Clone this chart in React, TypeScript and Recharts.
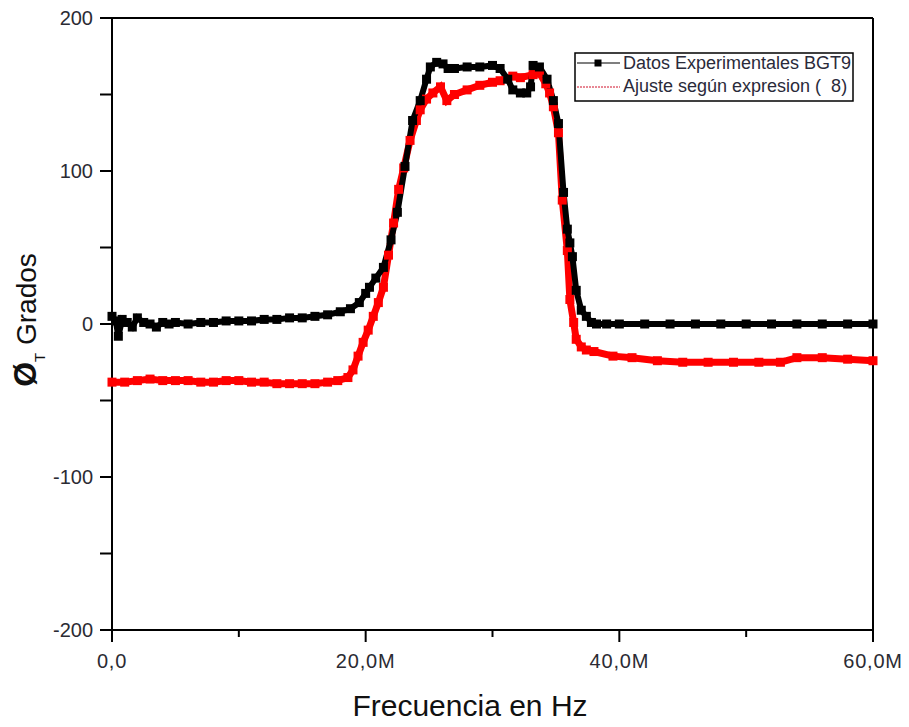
import React from 'react'
import { LineChart, Line, XAxis, YAxis, ReferenceLine } from 'recharts'

// frequency in MHz, phase in degrees
const expFreq = [0.0, 0.3, 0.5, 0.8, 1.2, 1.6, 2.0, 2.5, 3.0, 3.5, 4.0, 4.5, 5.0, 6.0, 7.0, 8.0, 9.0, 10.0, 11.0, 12.0, 13.0, 14.0, 15.0, 16.0, 17.0, 18.0, 18.8, 19.5, 20.0, 20.3, 20.8, 21.4, 22.0, 22.5, 23.1, 23.7, 24.3, 24.8, 25.1, 25.6, 26.1, 26.5, 27.0, 28.0, 29.0, 30.0, 30.6, 31.2, 31.6, 32.2, 32.7, 33.0, 33.2, 33.7, 34.3, 34.8, 35.2, 35.6, 35.9, 36.1, 36.3, 36.6, 37.0, 37.4, 37.8, 38.2, 39, 40, 42, 44, 46, 48, 50, 52, 54, 56, 58, 60]
const expPhase = [5, 2, -8, 3, 1, -2, 4, 1, 0, -2, 1, 0, 1, 0, 1, 1, 2, 2, 2, 3, 3, 4, 4, 5, 6, 8, 10, 14, 20, 24, 30, 37, 55, 73, 103, 133, 146, 160, 168, 171, 170, 167, 167, 168, 168, 169, 167, 160, 153, 151, 151, 155, 169, 168, 160, 146, 131, 86, 62, 53, 44, 22, 9, 5, 1, 0, 0, 0, 0, 0, 0, 0, 0, 0, 0, 0, 0, 0]

const fitFreq = [0.0, 1.0, 2.0, 3.0, 4.0, 5.0, 6.0, 7.0, 8.0, 9.0, 10.0, 11.0, 12.0, 13.0, 14.0, 15.0, 16.0, 17.0, 17.8, 18.6, 19.0, 19.4, 19.8, 20.2, 20.6, 21.0, 21.4, 21.8, 22.2, 22.6, 23.0, 23.5, 24.0, 24.3, 24.8, 25.3, 25.9, 26.4, 27.0, 28.0, 29.0, 30.0, 30.6, 31.6, 32.2, 33.2, 33.7, 34.2, 34.5, 34.8, 35.2, 35.5, 35.9, 36.1, 36.4, 36.6, 37.0, 37.4, 38.0, 39.5, 41, 43, 45, 47, 49, 51, 52.7, 54, 56, 58, 60]
const fitPhase = [-38, -38, -37, -36, -37, -37, -37, -38, -38, -37, -37, -38, -38, -39, -39, -39, -39, -38, -37, -35, -30, -21, -12, -4, 5, 14, 24, 45, 66, 88, 102, 120, 133, 140, 147, 151, 155, 146, 150, 153, 156, 158, 159, 162, 161, 163, 164, 157, 151, 142, 125, 81, 48, 16, 1, -10, -15, -17, -18, -21, -22, -24, -25, -25, -25, -25, -25, -22, -22, -23, -24]

const xTicks = [0, 10e6, 20e6, 30e6, 40e6, 50e6, 60e6]
const yTicks = [-200, -150, -100, -50, 0, 50, 100, 150, 200]

const expData = expFreq.map((f, i) => ({ x: f * 1e6, y: expPhase[i] }))
const fitData = fitFreq.map((f, i) => ({ x: f * 1e6, y: fitPhase[i] }))

const font = '"Liberation Sans", Arial, sans-serif'
const textColor = '#2b2b33'

const fmtX = (v: number) => {
  if (v === 0) return '0,0'
  return (v / 1e6).toFixed(1).replace('.', ',') + 'M'
}

const squareDot = (color: string, size: number) => (props: any) => {
  const { cx, cy, index } = props
  return <rect key={'d' + index} x={cx - size / 2} y={cy - size / 2} width={size} height={size} fill={color} />
}

// x tick: long tick + label every 20M, short tick between
const XTick = (props: any) => {
  const { x, y, payload } = props
  const axisY = y - 14 // tickSize 12 + tickMargin 2
  const major = payload.value % 20e6 === 0
  return (
    <g>
      <line x1={x} y1={axisY} x2={x} y2={axisY + (major ? 12 : 7)} stroke="#000" strokeWidth={2} />
      {major && (
        <text x={x} y={axisY + 38} textAnchor="middle" fontSize={20} letterSpacing={0.8} fill={textColor} fontFamily={font}>
          {fmtX(payload.value)}
        </text>
      )}
    </g>
  )
}

const YTick = (props: any) => {
  const { x, y, payload } = props
  const axisX = x + 19 // tickSize 12 + tickMargin 7
  const major = payload.value % 100 === 0
  return (
    <g>
      <line x1={axisX - 12} y1={y} x2={axisX} y2={y} stroke="#000" strokeWidth={2} />
      {major && (
        <text x={axisX - 19} y={y + 7} textAnchor="end" fontSize={20} fill={textColor} fontFamily={font}>
          {payload.value}
        </text>
      )}
    </g>
  )
}

// drawn outside the chart so it doesn't eat into the plot area
function LegendBox() {
  return (
    <svg width={280} height={50} style={{ position: 'absolute', left: 574, top: 52 }}>
      <rect x={1} y={1} width={278} height={48} fill="#fff" stroke="#000" strokeWidth={1.5} />
      <line x1={3} y1={11} x2={46} y2={11} stroke="#000" strokeWidth={1.2} />
      <rect x={20.5} y={7.5} width={7} height={7} fill="#000" />
      <text x={49} y={17} fontSize={18} fill="#2a2a3a" fontFamily={font}>Datos Experimentales BGT9</text>
      <line x1={3} y1={35} x2={46} y2={35} stroke="#d0102a" strokeWidth={1} strokeDasharray="2 1" />
      <text x={49} y={40} fontSize={18} fill="#2a2a3a" fontFamily={font}>{'Ajuste según expresion ( \u00a08)'}</text>
    </svg>
  )
}

function YTitle() {
  return (
    <text x={36} y={320} transform="rotate(-90, 36, 320)" textAnchor="middle" fontFamily={font} fill="#111" fontSize={28}>
      <tspan fontSize={32} fontWeight="bold">Ø</tspan>
      <tspan fontSize={15} dy={9}>T</tspan>
      <tspan dy={-9}> Grados</tspan>
    </text>
  )
}

function XTitle() {
  return (
    <text x={470} y={716} textAnchor="middle" fontFamily={font} fill="#111" fontSize={30}>
      Frecuencia en Hz
    </text>
  )
}

export default function App() {
  return (
    <div style={{ position: 'absolute', left: 0, top: 0, width: 909, height: 727, background: '#fff' }}>
      <LineChart width={909} height={727} margin={{ top: 18, right: 36, bottom: 37, left: 52 }}>
        <XAxis
          dataKey="x"
          type="number"
          domain={[0, 60e6]}
          ticks={xTicks}
          interval={0}
          height={60}
          stroke="#000"
          strokeWidth={2}
          tickSize={12}
          tickLine={false}
          tick={<XTick />}
          label={<XTitle />}
        />
        <YAxis
          type="number"
          domain={[-200, 200]}
          ticks={yTicks}
          interval={0}
          width={60}
          stroke="#000"
          strokeWidth={2}
          tickSize={12}
          tickMargin={7}
          tickLine={false}
          tick={<YTick />}
          label={<YTitle />}
        />
        <ReferenceLine y={200} stroke="#000" strokeWidth={2} />
        <ReferenceLine x={60e6} stroke="#000" strokeWidth={2} />
        <Line
          data={fitData}
          dataKey="y"
          name="Ajuste según expresion (  8)"
          stroke="#f00"
          strokeWidth={7}
          dot={squareDot('#f00', 9)}
          isAnimationActive={false}
        />
        <Line
          data={expData}
          dataKey="y"
          name="Datos Experimentales BGT9"
          stroke="#000"
          strokeWidth={6}
          dot={squareDot('#000', 9)}
          isAnimationActive={false}
        />
      </LineChart>
      <LegendBox />
    </div>
  )
}
